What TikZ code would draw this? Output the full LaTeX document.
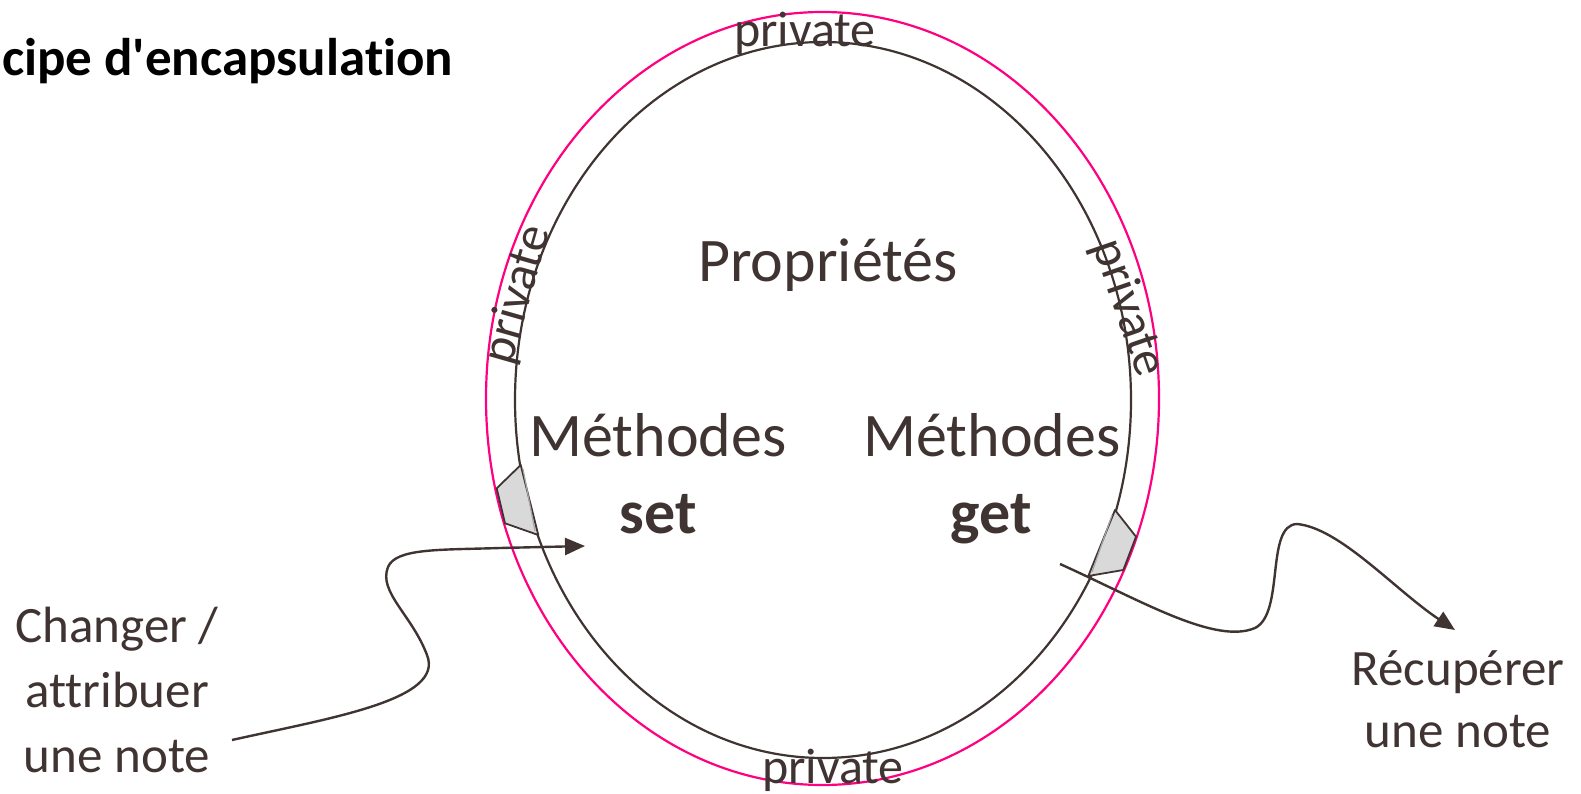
\documentclass[tikz,border=0pt]{standalone}
\usepackage{fontspec}
\setmainfont{Carlito}[Ligatures = NoCommon]
\usetikzlibrary{arrows.meta}
\definecolor{brun}{RGB}{64,52,50}
\definecolor{rose}{RGB}{255,0,128}
\definecolor{gris}{RGB}{217,217,217}

\begin{document}
\begin{tikzpicture}[x = 1pt, y = -1pt, font = \fontsize{51}{65}\selectfont, text = brun]
	\tikzstyle{bigStyle} = [font = \fontsize{62}{74}\selectfont, inner sep = 0pt, anchor = base]
	\tikzstyle{privateStyle} = [font = \fontsize{50}{60}\selectfont, inner sep = 0pt]
	\tikzstyle{noteStyle} = [align = center, inner sep = 0pt, anchor = base]
	\tikzstyle{shieldStyle} = [draw = brun, fill = gris, line width = 1.8pt, line join = round]
	\tikzstyle{arrowStyle} = [draw = brun, line width = 2.4pt, -{Triangle[length = 20pt, width = 17pt]}]
	\useasboundingbox (0,0) rectangle (1581,794);
	\draw[rose, line width = 2.2pt] (822.5,398.5) ellipse [x radius = 336.5, y radius = 386.5];
	\draw[brun, line width = 2.2pt] (823,400) ellipse [x radius = 308, y radius = 358];
	\draw[shieldStyle] (520.7,465) -- (496.7,488.3) -- (505,523.3) -- (538.3,535) -- cycle;
	\draw[gray!70, line width = 1.2pt] (523,469) -- (535,531);
	\draw[shieldStyle] (1115,510) -- (1136,536.7) -- (1123.3,570) -- (1088.3,576) -- cycle;
	\draw[gray!70, line width = 1.2pt] (1112,515) -- (1092,572);
	\node[anchor = base west, inner sep = 0pt, text = black, font = \fontsize{53}{62}\selectfont\bfseries] (title) at (2,76) {cipe d\textquotesingle encapsulation};
	\node[privateStyle, anchor = base] (privTop) at (805,47) {private};
	\node[privateStyle, anchor = base] (privBottom) at (833,783) {private};
	\node[privateStyle, rotate = 74] (privLeft) at (518,295) {private};
	\node[privateStyle, rotate = -71] (privRight) at (1128,308) {private};
	\node[bigStyle] (props) at (828,281) {Propriétés};
	\node[bigStyle] (methSet) at (658,456) {Méthodes};
	\node[bigStyle] (methGet) at (992,456) {Méthodes};
	\node[bigStyle, font = \fontsize{62}{74}\selectfont\bfseries] (set) at (658,533) {set};
	\node[bigStyle, font = \fontsize{62}{74}\selectfont\bfseries] (get) at (991,533) {get};
	\node[noteStyle] (change) at (117,772) {Changer /\\attribuer\\une note};
	\node[noteStyle, font = \fontsize{51}{62}\selectfont] (fetch) at (1458,747) {Récupérer\\une note};
	\coordinate (setFrom) at (232,740);
	\coordinate (setTo) at (585,546);
	\coordinate (getFrom) at (1060,564);
	\coordinate (getTo) at (1455,630);
	\draw[arrowStyle] (setFrom) .. controls (330,718) and (445,700) .. (427,655) .. controls (412,615) and (378,592) .. (388,567) .. controls (396,548) and (440,550) .. (500,548) -- (setTo);
	\draw[arrowStyle] (getFrom) .. controls (1140,600) and (1215,645) .. (1255,628) .. controls (1285,613) and (1265,525) .. (1297,524) .. controls (1340,528) and (1395,590) .. (getTo);
\end{tikzpicture}
\end{document}
